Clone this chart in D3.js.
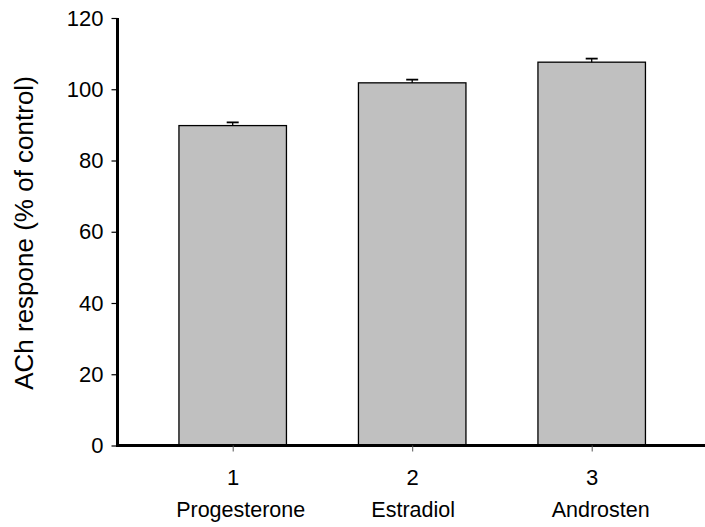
<!DOCTYPE html>
<html>
<head>
<meta charset="utf-8">
<script src="https://cdn.jsdelivr.net/npm/d3@7"></script>
<style>
  html, body { margin: 0; padding: 0; background: #fff; }
  svg { display: block; font-family: Arial, "Liberation Sans", sans-serif; }
</style>
</head>
<body>
<svg id="chart" width="705" height="527"></svg>
<script>
// Hormone treatments and the ACh response they produce (% of control)
const groups = ["1", "2", "3"];
const compounds = ["Progesterone", "Estradiol", "Androsten"];
const response = [89.8, 101.8, 107.6];
const sem = [0.9, 0.9, 1.0];
const yTicks = [0, 20, 40, 60, 80, 100, 120];

const svg = d3.select("#chart");

const x = d3.scalePoint().domain(groups).range([232.7, 591.7]);
const y = d3.scaleLinear().domain([0, 120]).range([445.5, 18]);
const barWidth = 107.5;
const axisLeft = 117.5;
// horizontal nudges of the compound names relative to their tick
const nameShift = [8, 1, 9];

// bars
svg.append("g").selectAll("rect")
  .data(groups)
  .join("rect")
  .attr("x", (d) => x(d) - barWidth / 2)
  .attr("y", (d, i) => y(response[i]))
  .attr("width", barWidth)
  .attr("height", (d, i) => y(0) - y(response[i]))
  .attr("fill", "#c0c0c0")
  .attr("stroke", "#000")
  .attr("stroke-width", 1.3);

// upper error bars
const err = svg.append("g").attr("stroke", "#000").attr("stroke-width", 1.3);
groups.forEach((g, i) => {
  const cx = x(g);
  err.append("line")
    .attr("x1", cx).attr("x2", cx)
    .attr("y1", y(response[i])).attr("y2", y(response[i] + sem[i]));
  err.append("line")
    .attr("x1", cx - 6).attr("x2", cx + 6)
    .attr("y1", y(response[i] + sem[i])).attr("y2", y(response[i] + sem[i]))
    .attr("stroke-width", 1.8);
});

// y axis
const yAxis = svg.append("g")
  .attr("transform", `translate(${axisLeft},0)`)
  .call(d3.axisLeft(y).tickValues(yTicks).tickSize(6).tickPadding(8).tickSizeOuter(0));
yAxis.select(".domain").attr("stroke-width", 3).attr("d", `M0,${y(0) + 1.5}V${y(120)}`);
yAxis.selectAll(".tick line").attr("stroke-width", 1.2);
yAxis.selectAll(".tick text").attr("font-size", 22).attr("fill", "#000")
  .attr("font-family", "Arial, 'Liberation Sans', sans-serif");

// x axis
const xAxis = svg.append("g")
  .attr("transform", `translate(0,${y(0)})`)
  .call(d3.axisBottom(x).tickSize(6).tickPadding(18).tickSizeOuter(0));
xAxis.select(".domain").attr("stroke-width", 3).attr("d", `M${axisLeft - 1.5},0H705`);
xAxis.selectAll(".tick line").attr("stroke-width", 1).attr("stroke", "#555");
xAxis.selectAll(".tick text").attr("font-size", 22).attr("fill", "#000")
  .attr("font-family", "Arial, 'Liberation Sans', sans-serif");

// compound names under the group numbers
svg.append("g").selectAll("text")
  .data(groups)
  .join("text")
  .attr("x", (d, i) => x(d) + nameShift[i])
  .attr("y", 517)
  .attr("text-anchor", "middle")
  .attr("font-size", 21.5)
  .attr("fill", "#000")
  .text((d, i) => compounds[i]);

// y axis title
svg.append("text")
  .attr("transform", "translate(33,233) rotate(-90)")
  .attr("text-anchor", "middle")
  .attr("font-size", 26)
  .attr("fill", "#000")
  .text("ACh respone (% of control)");
</script>
</body>
</html>
